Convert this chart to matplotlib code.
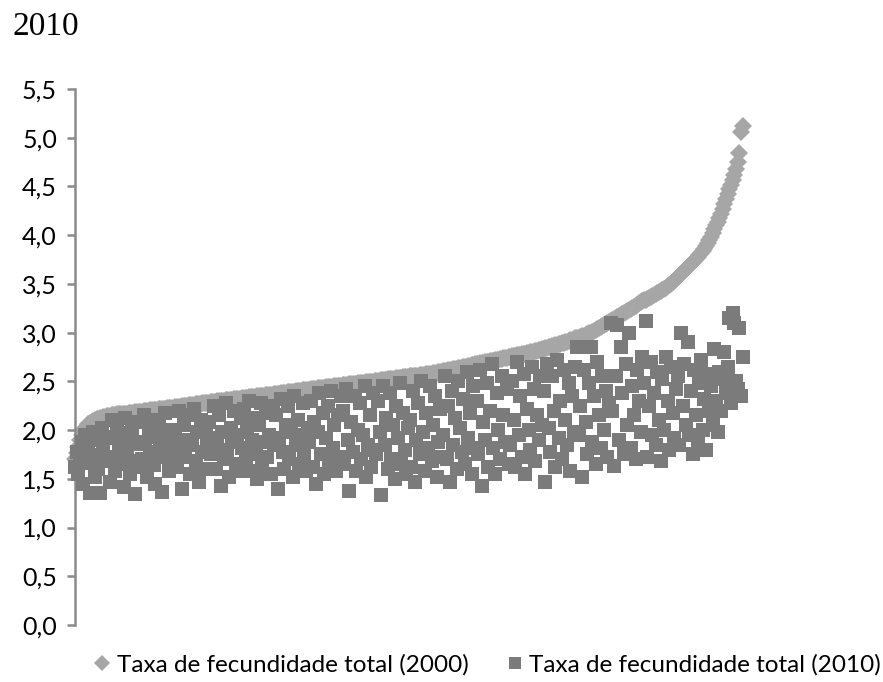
import matplotlib
matplotlib.use('Agg')
import matplotlib.pyplot as plt
import numpy as np
from matplotlib.lines import Line2D

# Taxa de fecundidade total por município, ordenada pela taxa de 2000
taxa_2000 = [
    1.70, 1.76, 1.83, 1.90, 1.95, 1.99, 2.02, 2.04, 2.06, 2.07, 2.08, 2.09, 2.10, 2.11, 2.11, 2.12, 2.12, 2.13, 2.13, 2.14,
    2.14, 2.14, 2.15, 2.15, 2.15, 2.16, 2.16, 2.16, 2.17, 2.17, 2.17, 2.17, 2.18, 2.18, 2.18, 2.18, 2.19, 2.19, 2.19, 2.19,
    2.19, 2.20, 2.20, 2.20, 2.20, 2.21, 2.21, 2.21, 2.21, 2.21, 2.22, 2.22, 2.22, 2.22, 2.22, 2.23, 2.23, 2.23, 2.23, 2.23,
    2.24, 2.24, 2.24, 2.24, 2.25, 2.25, 2.25, 2.25, 2.26, 2.26, 2.26, 2.26, 2.27, 2.27, 2.27, 2.27, 2.28, 2.28, 2.28, 2.28,
    2.28, 2.29, 2.29, 2.29, 2.29, 2.30, 2.30, 2.30, 2.30, 2.30, 2.31, 2.31, 2.31, 2.31, 2.31, 2.32, 2.32, 2.32, 2.32, 2.32,
    2.33, 2.33, 2.33, 2.33, 2.34, 2.34, 2.34, 2.34, 2.34, 2.35, 2.35, 2.35, 2.35, 2.35, 2.36, 2.36, 2.36, 2.36, 2.36, 2.37,
    2.37, 2.37, 2.37, 2.38, 2.38, 2.38, 2.38, 2.39, 2.39, 2.39, 2.39, 2.39, 2.40, 2.40, 2.40, 2.40, 2.41, 2.41, 2.41, 2.41,
    2.41, 2.42, 2.42, 2.42, 2.42, 2.43, 2.43, 2.43, 2.43, 2.43, 2.44, 2.44, 2.44, 2.44, 2.44, 2.45, 2.45, 2.45, 2.45, 2.45,
    2.46, 2.46, 2.46, 2.46, 2.47, 2.47, 2.47, 2.47, 2.47, 2.48, 2.48, 2.48, 2.48, 2.48, 2.49, 2.49, 2.49, 2.49, 2.49, 2.50,
    2.50, 2.50, 2.50, 2.51, 2.51, 2.51, 2.51, 2.52, 2.52, 2.52, 2.52, 2.52, 2.53, 2.53, 2.53, 2.53, 2.54, 2.54, 2.54, 2.54,
    2.55, 2.55, 2.55, 2.56, 2.56, 2.56, 2.57, 2.57, 2.57, 2.57, 2.58, 2.58, 2.58, 2.58, 2.59, 2.59, 2.59, 2.60, 2.60, 2.60,
    2.61, 2.61, 2.61, 2.62, 2.62, 2.62, 2.63, 2.63, 2.63, 2.64, 2.64, 2.64, 2.65, 2.65, 2.65, 2.66, 2.66, 2.67, 2.67, 2.68,
    2.68, 2.68, 2.69, 2.69, 2.69, 2.70, 2.70, 2.70, 2.71, 2.71, 2.71, 2.72, 2.72, 2.72, 2.73, 2.73, 2.74, 2.74, 2.74, 2.75,
    2.75, 2.76, 2.76, 2.76, 2.77, 2.77, 2.77, 2.78, 2.78, 2.78, 2.79, 2.79, 2.80, 2.80, 2.80, 2.81, 2.81, 2.82, 2.82, 2.83,
    2.83, 2.84, 2.84, 2.85, 2.85, 2.86, 2.86, 2.87, 2.87, 2.88, 2.88, 2.89, 2.89, 2.90, 2.90, 2.91, 2.92, 2.92, 2.93, 2.94,
    2.95, 2.95, 2.96, 2.97, 2.97, 2.98, 2.99, 3.00, 3.00, 3.01, 3.02, 3.03, 3.04, 3.05, 3.06, 3.07, 3.08, 3.09, 3.10, 3.11,
    3.12, 3.13, 3.14, 3.15, 3.16, 3.17, 3.18, 3.19, 3.20, 3.21, 3.22, 3.23, 3.24, 3.25, 3.26, 3.27, 3.28, 3.30, 3.31, 3.32,
    3.33, 3.34, 3.35, 3.36, 3.37, 3.38, 3.39, 3.40, 3.41, 3.42, 3.43, 3.44, 3.45, 3.46, 3.48, 3.49, 3.50, 3.52, 3.53, 3.55,
    3.57, 3.58, 3.60, 3.62, 3.63, 3.65, 3.67, 3.68, 3.70, 3.72, 3.74, 3.76, 3.78, 3.80, 3.82, 3.84, 3.86, 3.89, 3.92, 3.95,
    3.98, 4.02, 4.06, 4.10, 4.14, 4.18, 4.22, 4.27, 4.32, 4.37, 4.42, 4.47, 4.52, 4.57, 4.62, 4.68, 4.75, 4.84, 5.06, 5.12,
]

taxa_2010 = [
    1.62, 1.78, 1.55, 1.70, 1.88, 1.45, 1.95, 1.66, 1.84, 1.35, 1.74, 1.98, 1.52, 1.90, 1.60, 1.35, 2.02, 1.80, 1.68, 1.93,
    1.92, 1.47, 2.10, 1.72, 1.58, 2.05, 1.83, 1.65, 1.97, 1.42, 2.12, 1.76, 1.88, 1.55, 2.00, 1.68, 1.34, 1.86, 2.08, 1.62,
    1.70, 2.15, 1.88, 1.52, 1.98, 1.78, 2.10, 1.64, 1.45, 1.93, 2.05, 1.82, 1.36, 1.72, 2.18, 1.90, 1.58, 2.00, 1.75, 1.85,
    1.95, 1.62, 2.20, 1.80, 1.40, 2.05, 1.72, 1.90, 2.15, 1.55, 1.85, 2.22, 1.68, 1.98, 1.47, 2.10, 1.78, 1.60, 2.02, 1.88,
    2.08, 1.75, 1.92, 2.25, 1.60, 1.85, 2.15, 1.43, 1.98, 1.70, 2.28, 1.80, 1.52, 2.02, 1.88, 2.20, 1.65, 1.95, 1.58, 2.12,
    1.82, 2.22, 1.68, 1.98, 2.30, 1.58, 1.90, 2.12, 1.75, 1.50, 2.05, 2.28, 1.62, 1.88, 2.18, 1.72, 1.95, 1.55, 2.25, 1.85,
    2.15, 1.40, 1.92, 2.32, 1.78, 1.60, 2.05, 2.25, 1.70, 1.98, 1.52, 2.35, 1.85, 2.10, 1.65, 1.95, 2.28, 1.75, 1.58, 2.02,
    1.88, 2.30, 1.62, 2.08, 1.45, 1.98, 2.38, 1.75, 2.18, 1.55, 1.92, 2.25, 1.68, 2.40, 1.82, 2.05, 1.58, 2.15, 1.72, 2.35,
    2.20, 1.65, 2.42, 1.90, 1.37, 2.08, 1.78, 2.35, 1.58, 2.00, 2.28, 1.70, 1.95, 2.45, 1.52, 1.85, 2.15, 1.62, 2.38, 1.80,
    1.75, 2.30, 1.98, 1.33, 2.45, 1.85, 2.12, 1.60, 2.38, 1.70, 2.05, 1.50, 2.25, 1.92, 2.48, 1.65, 2.18, 1.80, 1.55, 2.02,
    2.10, 1.62, 2.40, 1.47, 1.90, 2.28, 1.75, 2.50, 1.98, 1.58, 2.18, 1.82, 2.45, 1.68, 2.05, 2.35, 1.52, 1.88, 2.22, 1.72,
    1.95, 2.55, 1.70, 2.25, 1.47, 2.40, 1.85, 2.12, 1.60, 2.50, 2.02, 1.78, 2.32, 1.65, 2.60, 1.92, 2.18, 1.55, 2.45, 1.82,
    2.30, 1.75, 2.62, 1.43, 2.08, 1.90, 2.48, 1.62, 2.20, 2.68, 1.82, 1.55, 2.38, 2.00, 1.70, 2.55, 2.15, 1.88, 2.42, 1.65,
    1.85, 2.50, 2.10, 1.62, 2.70, 1.95, 2.35, 1.72, 2.58, 1.55, 2.22, 2.00, 1.80, 2.65, 2.42, 1.68, 2.15, 1.90, 2.55, 2.05,
    2.40, 1.47, 2.68, 2.02, 1.78, 2.55, 2.20, 1.62, 2.72, 1.92, 2.30, 1.70, 2.62, 2.10, 1.85, 2.48, 1.58, 2.35, 1.98, 2.65,
    2.85, 1.95, 2.25, 1.52, 2.62, 2.08, 1.75, 2.48, 2.85, 1.88, 2.35, 1.65, 2.70, 2.15, 1.82, 2.55, 2.00, 2.40, 1.72, 2.28,
    3.10, 2.20, 1.63, 2.55, 3.08, 1.90, 2.85, 2.38, 1.75, 2.68, 2.05, 3.00, 1.82, 2.45, 2.15, 1.70, 2.62, 2.30, 1.98, 2.75,
    2.48, 3.12, 1.72, 2.25, 2.70, 1.95, 2.38, 1.85, 2.60, 2.10, 1.68, 2.52, 2.00, 2.75, 2.30, 1.80, 2.65, 2.18, 1.92, 2.42,
    2.55, 1.85, 3.00, 2.25, 2.68, 2.05, 2.90, 1.95, 2.40, 1.75, 2.62, 2.15, 1.90, 2.48, 2.72, 2.00, 2.32, 1.80, 2.58, 2.20,
    2.45, 2.05, 2.83, 2.30, 1.98, 2.60, 2.20, 2.52, 2.80, 2.38, 2.65, 3.15, 2.28, 3.20, 3.10, 2.50, 2.42, 3.05, 2.35, 2.75,
]

yticks = [0.0, 0.5, 1.0, 1.5, 2.0, 2.5, 3.0, 3.5, 4.0, 4.5, 5.0, 5.5]
ytick_labels = ['0,0', '0,5', '1,0', '1,5', '2,0', '2,5', '3,0', '3,5', '4,0', '4,5', '5,0', '5,5']
labels = ['Taxa de fecundidade total (2000)', 'Taxa de fecundidade total (2010)']

cor_2000 = '#a6a6a6'
cor_2010 = '#7b7b7b'
cor_eixo = '#8a8a8a'

plt.rcParams['font.family'] = ['Lato', 'DejaVu Sans']

municipios = np.arange(1, len(taxa_2000) + 1)

fig = plt.figure(figsize=(8.83, 6.82), dpi=100)
ax = fig.add_axes([75 / 883, 57 / 682, 785 / 883, 536 / 682])

ax.plot(municipios, taxa_2000, linestyle='none', marker='D', markersize=8.8,
        color=cor_2000, markeredgewidth=0, clip_on=False, zorder=2)
ax.plot(municipios, taxa_2010, linestyle='none', marker='s', markersize=10.5,
        color=cor_2010, markeredgewidth=0, clip_on=False, zorder=3)

ax.set_ylim(0, 5.5)
ax.set_xlim(1, 470)
ax.set_yticks(yticks)
ax.set_yticklabels(ytick_labels)
ax.set_xticks([])

for lado in ['top', 'right', 'bottom']:
    ax.spines[lado].set_visible(False)
ax.spines['left'].set_color(cor_eixo)
ax.spines['left'].set_linewidth(1.8)
ax.tick_params(axis='y', direction='out', length=6, width=1.8, color=cor_eixo,
               labelsize=18, labelcolor='black', pad=7)

fig.text(13 / 883, 1 - 27 / 682, '2010', family='Liberation Serif', fontsize=24,
         va='center', ha='left')

handles = [
    Line2D([], [], linestyle='none', marker='D', markersize=8, color=cor_2000, markeredgewidth=0),
    Line2D([], [], linestyle='none', marker='s', markersize=8, color=cor_2010, markeredgewidth=0),
]
fig.legend(handles, labels, ncol=2, loc='center', bbox_to_anchor=(488 / 883, 17 / 682),
           frameon=False, fontsize=17.5, handlelength=0.6, handletextpad=0.3,
           columnspacing=1.6)

fig.savefig('out.png', dpi=100)
